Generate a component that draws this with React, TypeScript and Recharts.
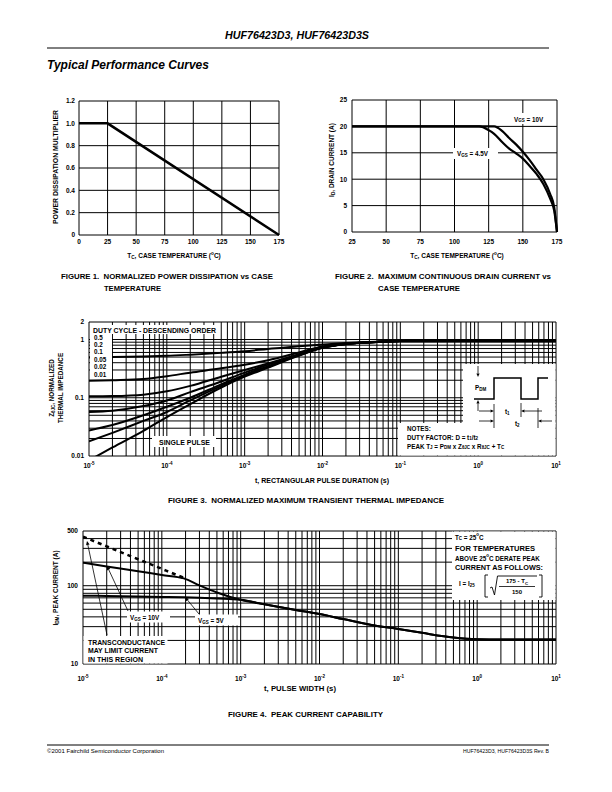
import React from 'react';
import { LineChart, Line, XAxis, YAxis, ReferenceLine } from 'recharts';

const FONT = "'Liberation Sans', Arial, Helvetica, sans-serif";

// Figure 1 - normalized power dissipation vs case temperature
const fig1Temp = [0, 25, 175];
const fig1Mult = [1.0, 1.0, 0];
const fig1XTicks = [0, 25, 50, 75, 100, 125, 150, 175];
const fig1YTicks = [0, 0.2, 0.4, 0.6, 0.8, 1.0, 1.2];

// Figure 2 - max continuous drain current vs case temperature
const fig2Temp = [25, 50, 75, 100, 118, 125, 129, 135, 140, 145, 150, 155, 160, 165, 170, 173, 175];
const fig2Vgs10 = [20, 20, 20, 20, 20, 20, 20, 19.1, 17.8, 16.6, 15.2, 13.6, 11.8, 10, 7.2, 4.6, 0];
const fig2Vgs45 = [20, 20, 20, 20, 20, 19.3, 18.6, 17, 15.8, 14.9, 13.9, 12.5, 11, 9.1, 6.3, 4, 0];
const fig2XTicks = [25, 50, 75, 100, 125, 150, 175];
const fig2YTicks = [0, 5, 10, 15, 20, 25];

// Figure 3 - normalized transient thermal impedance
const fig3Time = [1e-5, 2e-5, 5e-5, 1e-4, 2e-4, 5e-4, 1e-3, 2e-3, 5e-3, 1e-2, 2e-2, 5e-2, 1e-1, 1, 10];
const fig3D05 = [0.49, 0.5, 0.51, 0.525, 0.55, 0.59, 0.63, 0.69, 0.77, 0.82, 0.87, 0.92, 0.94, 0.95, 0.95];
const fig3D02 = [0.195, 0.2, 0.21, 0.235, 0.27, 0.32, 0.37, 0.44, 0.6, 0.76, 0.85, 0.91, 0.94, 0.95, 0.95];
const fig3D01 = [0.106, 0.107, 0.113, 0.129, 0.16, 0.23, 0.3, 0.39, 0.56, 0.74, 0.84, 0.91, 0.94, 0.95, 0.95];
const fig3D005 = [0.057, 0.06, 0.072, 0.09, 0.125, 0.19, 0.27, 0.37, 0.55, 0.73, 0.84, 0.91, 0.94, 0.95, 0.95];
const fig3D002 = [0.0275, 0.034, 0.05, 0.07, 0.1, 0.17, 0.25, 0.35, 0.54, 0.73, 0.84, 0.91, 0.94, 0.95, 0.95];
const fig3D001 = [0.0178, 0.025, 0.04, 0.057, 0.09, 0.16, 0.24, 0.34, 0.54, 0.73, 0.84, 0.91, 0.94, 0.95, 0.95];
const fig3Single = [0.0084, 0.014, 0.027, 0.0467, 0.078, 0.15, 0.23, 0.33, 0.53, 0.72, 0.84, 0.91, 0.94, 0.95, 0.95];
const fig3DutyLabels = ['0.5', '0.2', '0.1', '0.05', '0.02', '0.01'];
const fig3XTicks = [1e-5, 1e-4, 1e-3, 1e-2, 1e-1, 1, 10];
const fig3YTicks = [0.01, 0.1, 1, 2];

// Figure 4 - peak current capability
const fig4Time = [1e-5, 2e-5, 5e-5, 1e-4, 1.9e-4, 3e-4, 5e-4, 1e-3, 2e-3, 5e-3, 1e-2, 2e-2, 5e-2, 1e-1, 2e-1, 5e-1, 1, 2, 5, 10];
const fig4Vgs10 = [197, 176, 153, 137, 124, 101, 82, 66, 58, 49, 43.5, 37.5, 31, 28, 25, 21.8, 20.7, 20.5, 20.5, 20.5];
const fig4Vgs5 = [74.5, 74, 73, 72, 71, 70, 68.5, 66, 58, 49, 43.5, 37.5, 31, 28, 25, 21.8, 20.7, 20.5, 20.5, 20.5];
const fig4Limit = [423, 318, 218, 164, 126];
const fig4XTicks = [1e-5, 1e-4, 1e-3, 1e-2, 1e-1, 1, 10];
const fig4YTicks = [10, 100, 500];

const fig1Data = fig1Temp.map((t, i) => ({ t, p: fig1Mult[i] }));
const fig2Data = fig2Temp.map((t, i) => ({ t, v10: fig2Vgs10[i], v45: fig2Vgs45[i] }));
const fig3Data = fig3Time.map((t, i) => ({
  t, d05: fig3D05[i], d02: fig3D02[i], d01: fig3D01[i], d005: fig3D005[i],
  d002: fig3D002[i], d001: fig3D001[i], single: fig3Single[i],
}));
const fig4Data = fig4Time.map((t, i) => ({
  t, v10: fig4Vgs10[i], v5: fig4Vgs5[i], lim: i < fig4Limit.length ? fig4Limit[i] : null,
}));

const logGrid = (lo: number, hi: number) => {
  const out: number[] = [];
  for (let e = Math.floor(Math.log10(lo)); e <= Math.ceil(Math.log10(hi)); e++) {
    for (let m = 1; m < 10; m++) {
      const v = +(m * Math.pow(10, e)).toPrecision(6);
      if (v >= lo * 0.999 && v <= hi * 1.001) out.push(v);
    }
  }
  return out;
};

type Plot = { x: number; y: number; w: number; h: number };
const PAD_L = 45, PAD_T = 10, PAD_R = 10, PAD_B = 30;

const P1: Plot = { x: 79, y: 101, w: 200, h: 134 };
const P2: Plot = { x: 352, y: 100, w: 205, h: 132 };
const P3: Plot = { x: 89, y: 322, w: 467, h: 134 };
const P4: Plot = { x: 83, y: 531, w: 473, h: 133 };

const tickText = { fontFamily: FONT, fontWeight: 700, fontSize: 6.5, fill: '#000' } as const;

const linXTick = (off: number) => (p: any) => (
  <text x={p.x} y={p.y + off} textAnchor="middle" {...tickText}>{p.payload.value}</text>
);
const powXTick = (off: number) => (p: any) => (
  <text x={p.x} y={p.y + off} textAnchor="middle" {...tickText}>
    <tspan>10</tspan>
    <tspan dy={-3} fontSize={4.5}>{Math.round(Math.log10(p.payload.value))}</tspan>
  </text>
);
const yTick = (fmt: (v: number) => string) => (p: any) => (
  <text x={p.x} y={p.y} dy={2.3} textAnchor="end" {...tickText}>{fmt(p.payload.value)}</text>
);

function Frame({ plot, children }: { plot: Plot; children: React.ReactNode }) {
  return (
    <div style={{ position: 'absolute', left: plot.x - PAD_L, top: plot.y - PAD_T }}>{children}</div>
  );
}

const gridLine = { stroke: '#000', strokeWidth: 1 };

function Fig1() {
  return (
    <Frame plot={P1}>
      <LineChart width={P1.w + PAD_L + PAD_R} height={P1.h + PAD_T + PAD_B} data={fig1Data}
        margin={{ top: PAD_T, right: PAD_R, bottom: 0, left: 0 }}>
        <XAxis dataKey="t" type="number" domain={[0, 175]} ticks={fig1XTicks} interval={0}
          height={PAD_B} axisLine={false} tickLine={false} tickSize={0} tickMargin={0} tick={linXTick(9)} />
        <YAxis type="number" domain={[0, 1.2]} ticks={fig1YTicks} interval={0} width={PAD_L}
          axisLine={false} tickLine={false} tickSize={0} tickMargin={4}
          tick={yTick(v => (v === 0 ? '0' : v.toFixed(1)))} />
        {fig1XTicks.map(v => <ReferenceLine key={'x' + v} x={v} {...gridLine} />)}
        {fig1YTicks.map(v => <ReferenceLine key={'y' + v} y={v} {...gridLine} />)}
        <Line dataKey="p" stroke="#000" strokeWidth={2.5} dot={false} isAnimationActive={false} type="linear" />
      </LineChart>
    </Frame>
  );
}

function Fig2() {
  return (
    <Frame plot={P2}>
      <LineChart width={P2.w + PAD_L + PAD_R} height={P2.h + PAD_T + PAD_B} data={fig2Data}
        margin={{ top: PAD_T, right: PAD_R, bottom: 0, left: 0 }}>
        <XAxis dataKey="t" type="number" domain={[25, 175]} ticks={fig2XTicks} interval={0}
          height={PAD_B} axisLine={false} tickLine={false} tickSize={0} tickMargin={0} tick={linXTick(12)} />
        <YAxis type="number" domain={[0, 25]} ticks={fig2YTicks} interval={0} width={PAD_L}
          axisLine={false} tickLine={false} tickSize={0} tickMargin={5} tick={yTick(v => String(v))} />
        {fig2XTicks.map(v => <ReferenceLine key={'x' + v} x={v} {...gridLine} />)}
        {fig2YTicks.map(v => <ReferenceLine key={'y' + v} y={v} {...gridLine} />)}
        <Line dataKey="v10" stroke="#000" strokeWidth={2.2} dot={false} isAnimationActive={false} type="monotone" />
        <Line dataKey="v45" stroke="#000" strokeWidth={2.2} dot={false} isAnimationActive={false} type="monotone" />
      </LineChart>
    </Frame>
  );
}

function Fig3() {
  const gx = logGrid(1e-5, 10);
  const gy = logGrid(0.01, 2);
  const keys = ['d05', 'd02', 'd01', 'd005', 'd002', 'd001', 'single'];
  return (
    <Frame plot={P3}>
      <LineChart width={P3.w + PAD_L + PAD_R} height={P3.h + PAD_T + PAD_B} data={fig3Data}
        margin={{ top: PAD_T, right: PAD_R, bottom: 0, left: 0 }}>
        <XAxis dataKey="t" type="number" scale="log" domain={[1e-5, 10]} ticks={fig3XTicks} interval={0}
          allowDataOverflow height={PAD_B} axisLine={false} tickLine={false} tickSize={0} tickMargin={0}
          tick={powXTick(12)} />
        <YAxis type="number" scale="log" domain={[0.01, 2]} ticks={fig3YTicks} interval={0} allowDataOverflow
          width={PAD_L} axisLine={false} tickLine={false} tickSize={0} tickMargin={5} tick={yTick(v => String(v))} />
        {gx.map(v => <ReferenceLine key={'x' + v} x={v} {...gridLine} />)}
        {gy.map(v => <ReferenceLine key={'y' + v} y={v} {...gridLine} />)}
        {keys.map(k => (
          <Line key={k} dataKey={k} stroke="#000" strokeWidth={2} dot={false} isAnimationActive={false} type="monotone" />
        ))}
      </LineChart>
    </Frame>
  );
}

function Fig4() {
  const gx = logGrid(1e-5, 10);
  const gy = logGrid(10, 500);
  return (
    <Frame plot={P4}>
      <LineChart width={P4.w + PAD_L + PAD_R} height={P4.h + PAD_T + PAD_B} data={fig4Data}
        margin={{ top: PAD_T, right: PAD_R, bottom: 0, left: 0 }}>
        <XAxis dataKey="t" type="number" scale="log" domain={[1e-5, 10]} ticks={fig4XTicks} interval={0}
          allowDataOverflow height={PAD_B} axisLine={false} tickLine={false} tickSize={0} tickMargin={0}
          tick={powXTick(17)} />
        <YAxis type="number" scale="log" domain={[10, 500]} ticks={fig4YTicks} interval={0} allowDataOverflow
          width={PAD_L} axisLine={false} tickLine={false} tickSize={0} tickMargin={5} tick={yTick(v => String(v))} />
        {gx.map(v => <ReferenceLine key={'x' + v} x={v} {...gridLine} />)}
        {gy.map(v => <ReferenceLine key={'y' + v} y={v} {...gridLine} />)}
        <Line dataKey="v5" stroke="#000" strokeWidth={2} dot={false} isAnimationActive={false} type="monotone" />
        <Line dataKey="v10" stroke="#000" strokeWidth={2} dot={false} isAnimationActive={false} type="monotone" />
        <Line dataKey="lim" stroke="#000" strokeWidth={2.5} strokeDasharray="4 4" dot={false}
          isAnimationActive={false} type="monotone" connectNulls={false} />
      </LineChart>
    </Frame>
  );
}

// rich text: plain strings, or [text, 'sub' | 'sup'] pieces
type Seg = string | [string, 'sub' | 'sup'];

type TxtProps = {
  x: number; y: number; size?: number; anchor?: 'start' | 'middle' | 'end'; len?: number;
  rotate?: boolean; italic?: boolean; weight?: number; segs: Seg[];
};
function Txt({ x, y, size = 6.5, anchor = 'start', len, rotate, italic, weight = 700, segs }: TxtProps) {
  let shift = 0;
  const parts = segs.map((s, i) => {
    const txt = typeof s === 'string' ? s : s[0];
    const kind = typeof s === 'string' ? null : s[1];
    const target = kind === 'sub' ? 1.6 : kind === 'sup' ? -2.2 : 0;
    const dy = target - shift;
    shift = target;
    return (
      <tspan key={i} dy={dy !== 0 ? dy : undefined} fontSize={kind ? size * 0.72 : size}>{txt}</tspan>
    );
  });
  return (
    <text x={x} y={y} fontSize={size} textAnchor={anchor} fontFamily={FONT} fontWeight={weight}
      fontStyle={italic ? 'italic' : 'normal'} dominantBaseline="central" fill="#000"
      textLength={len} lengthAdjust={len ? 'spacingAndGlyphs' : undefined}
      transform={rotate ? `rotate(-90 ${x} ${y})` : undefined} style={{ whiteSpace: 'pre' }}>
      {parts}
    </text>
  );
}

function Arrow({ x1, y1, x2, y2, head = 4 }: { x1: number; y1: number; x2: number; y2: number; head?: number }) {
  const a = Math.atan2(y2 - y1, x2 - x1);
  const w = head * 0.45;
  const bx = x2 - head * Math.cos(a);
  const by = y2 - head * Math.sin(a);
  const pts = `${x2},${y2} ${bx - w * Math.sin(a)},${by + w * Math.cos(a)} ${bx + w * Math.sin(a)},${by - w * Math.cos(a)}`;
  return (
    <g>
      <line x1={x1} y1={y1} x2={bx} y2={by} stroke="#000" strokeWidth={0.8} />
      <polygon points={pts} fill="#000" />
    </g>
  );
}

const Box = ({ x, y, w, h }: { x: number; y: number; w: number; h: number }) => (
  <rect x={x} y={y} width={w} height={h} fill="#fff" />
);

const tcTitle: Seg[] = ['T', ['C', 'sub'], ', CASE TEMPERATURE (', ['o', 'sup'], 'C)'];

function Overlay() {
  return (
    <svg width={612} height={792} style={{ position: 'absolute', left: 0, top: 0, pointerEvents: 'none' }}>
      {/* page header / footer */}
      <Txt x={297} y={35} size={11} anchor="middle" italic len={144} segs={['HUF76423D3, HUF76423D3S']} />
      <line x1={47} y1={48} x2={549} y2={48} stroke="#000" strokeWidth={1} />
      <Txt x={47} y={65} size={12} italic len={162} segs={['Typical Performance Curves']} />
      <line x1={47} y1={745} x2={549} y2={745} stroke="#000" strokeWidth={1} />
      <Txt x={47} y={751} size={5} weight={400} len={117} segs={['©2001 Fairchild Semiconductor Corporation']} />
      <Txt x={549} y={751} size={5} weight={400} anchor="end" len={86} segs={['HUF76423D3, HUF76423D3S Rev. B']} />

      {/* figure 1 */}
      <Txt x={55} y={167} rotate anchor="middle" size={6.3} len={114} segs={['POWER DISSIPATION MULTIPLIER']} />
      <Txt x={174} y={255} anchor="middle" size={6.5} segs={tcTitle} />
      <Txt x={61} y={276} size={8} len={212} segs={['FIGURE 1.  NORMALIZED POWER DISSIPATION vs CASE']} />
      <Txt x={104} y={287.5} size={8} len={57} segs={['TEMPERATURE']} />

      {/* figure 2 */}
      <Txt x={331} y={160} rotate anchor="middle" size={6.5} segs={['I', ['D', 'sub'], ', DRAIN CURRENT (A)']} />
      <Txt x={457} y={255} anchor="middle" size={6.5} segs={tcTitle} />
      <Txt x={335} y={276} size={8} len={216} segs={['FIGURE 2.  MAXIMUM CONTINUOUS DRAIN CURRENT vs']} />
      <Txt x={378} y={287.5} size={8} len={82} segs={['CASE TEMPERATURE']} />
      <Box x={510} y={113} w={40} h={11} />
      <Txt x={514} y={118.5} size={6.3} segs={['V', ['GS', 'sub'], ' = 10V']} />
      <Box x={453} y={148} w={45} h={11} />
      <Txt x={457} y={153} size={6.3} segs={['V', ['GS', 'sub'], ' = 4.5V']} />

      {/* figure 3 */}
      <Txt x={51} y={388} rotate anchor="middle" size={6.3} segs={['Z', ['θJC', 'sub'], ', NORMALIZED']} />
      <Txt x={60} y={388} rotate anchor="middle" size={6.3} segs={['THERMAL IMPEDANCE']} />
      <Txt x={322} y={480} anchor="middle" size={6.5} len={134} segs={['t, RECTANGULAR PULSE DURATION (s)']} />
      <Txt x={168} y={500} size={8} len={276} segs={['FIGURE 3.  NORMALIZED MAXIMUM TRANSIENT THERMAL IMPEDANCE']} />
      <Box x={90} y={325} w={128} h={9} />
      <Txt x={93} y={329.5} size={6.5} len={123} segs={['DUTY CYCLE - DESCENDING ORDER']} />
      <Box x={90} y={333} w={22} h={45} />
      {fig3DutyLabels.map((s, i) => (
        <Txt key={s} x={94} y={336.5 + i * 7.4} size={6.3} segs={[s]} />
      ))}
      <Box x={152} y={436} w={64} h={11} />
      <Txt x={159} y={441.5} size={6.5} len={51} segs={['SINGLE PULSE']} />

      {/* fig 3 inset: pulse waveform and notes */}
      <rect x={463} y={364} width={92.5} height={60} fill="#fff" />
      <rect x={398} y={423} width={157.5} height={32.5} fill="#fff" />
      <polyline points="474,399 494,399 494,378 521,378 521,399 538,399 538,378 548,378"
        fill="none" stroke="#000" strokeWidth={1.5} />
      <Arrow x1={478} y1={366} x2={478} y2={377} head={3.5} />
      <Arrow x1={478} y1={411} x2={478} y2={400} head={3.5} />
      <Txt x={475} y={387} size={6.3} segs={['P', ['DM', 'sub']]} />
      <line x1={494} y1={404} x2={494} y2={428} stroke="#000" strokeWidth={0.8} />
      <line x1={521} y1={403} x2={521} y2={417} stroke="#000" strokeWidth={0.8} />
      <line x1={538} y1={408} x2={538} y2={428} stroke="#000" strokeWidth={0.8} />
      <Arrow x1={479} y1={411} x2={494} y2={411} head={3.5} />
      <Arrow x1={542} y1={411} x2={521} y2={411} head={3.5} />
      <Txt x={505} y={411} size={6.3} segs={['t', ['1', 'sub']]} />
      <Arrow x1={479} y1={421} x2={494} y2={421} head={3.5} />
      <Arrow x1={552} y1={421} x2={538} y2={421} head={3.5} />
      <Txt x={515} y={423} size={6.3} segs={['t', ['2', 'sub']]} />
      <Txt x={407} y={428} size={6.3} segs={['NOTES:']} />
      <Txt x={407} y={436.5} size={6.3} segs={['DUTY FACTOR: D = t', ['1', 'sub'], '/t', ['2', 'sub']]} />
      <Txt x={407} y={445.5} size={6.3}
        segs={['PEAK T', ['J', 'sub'], ' = P', ['DM', 'sub'], ' x Z', ['θJC', 'sub'], ' x R', ['θJC', 'sub'], ' + T', ['C', 'sub']]} />

      {/* figure 4 */}
      <Txt x={55} y={588} rotate anchor="middle" size={6.5} segs={['I', ['DM', 'sub'], ', PEAK CURRENT (A)']} />
      <Txt x={300} y={688} anchor="middle" size={6.5} len={72} segs={['t, PULSE WIDTH (s)']} />
      <Txt x={228} y={714} size={8} len={155} segs={['FIGURE 4.  PEAK CURRENT CAPABILITY']} />

      <Box x={452} y={531.6} w={103.5} h={68.4} />
      <Txt x={455} y={536.5} size={6.3} segs={['T', ['C', 'sub'], ' = 25', ['o', 'sup'], 'C']} />
      <Txt x={455} y={548} size={6.3} len={80} segs={['FOR TEMPERATURES']} />
      <Txt x={455} y={557.5} size={6.3} segs={['ABOVE 25', ['o', 'sup'], 'C DERATE PEAK']} />
      <Txt x={455} y={567} size={6.3} len={88} segs={['CURRENT AS FOLLOWS:']} />
      <Txt x={459} y={583} size={6.3} segs={['I = I', ['25', 'sub']]} />
      <path d="M488 575 H485 V597 H488" fill="none" stroke="#000" strokeWidth={0.9} />
      <path d="M539 575 H542 V597 H539" fill="none" stroke="#000" strokeWidth={0.9} />
      <path d="M490 588 L492 587 L494.5 595 L497.5 576 H537" fill="none" stroke="#000" strokeWidth={0.9} />
      <Txt x={517} y={581} anchor="middle" size={6} segs={['175 - T', ['C', 'sub']]} />
      <line x1={499} y1={586.5} x2={535} y2={586.5} stroke="#000" strokeWidth={0.8} />
      <Txt x={517} y={591.5} anchor="middle" size={6} segs={['150']} />

      <Box x={127} y={611.5} w={43} h={11} />
      <Txt x={130} y={617} size={6.3} segs={['V', ['GS', 'sub'], ' = 10V']} />
      <Box x={195} y={614.5} w={43} h={11} />
      <Txt x={198} y={620} size={6.3} segs={['V', ['GS', 'sub'], ' = 5V']} />
      <Arrow x1={128} y1={611} x2={107} y2={566} />
      <Arrow x1={199} y1={614} x2={185} y2={597} />

      <Box x={83.5} y={636} w={84} h={27.5} />
      <Txt x={88} y={641.5} size={6.5} len={77} segs={['TRANSCONDUCTANCE']} />
      <Txt x={88} y={650} size={6.5} len={70} segs={['MAY LIMIT CURRENT']} />
      <Txt x={88} y={658.5} size={6.5} len={55} segs={['IN THIS REGION']} />
      <Arrow x1={107} y1={635} x2={87} y2={541} />
    </svg>
  );
}

export default function App() {
  return (
    <div style={{ position: 'absolute', left: 0, top: 0, width: 612, height: 792, background: '#fff', fontFamily: FONT }}>
      <Fig1 />
      <Fig2 />
      <Fig3 />
      <Fig4 />
      <Overlay />
    </div>
  );
}
